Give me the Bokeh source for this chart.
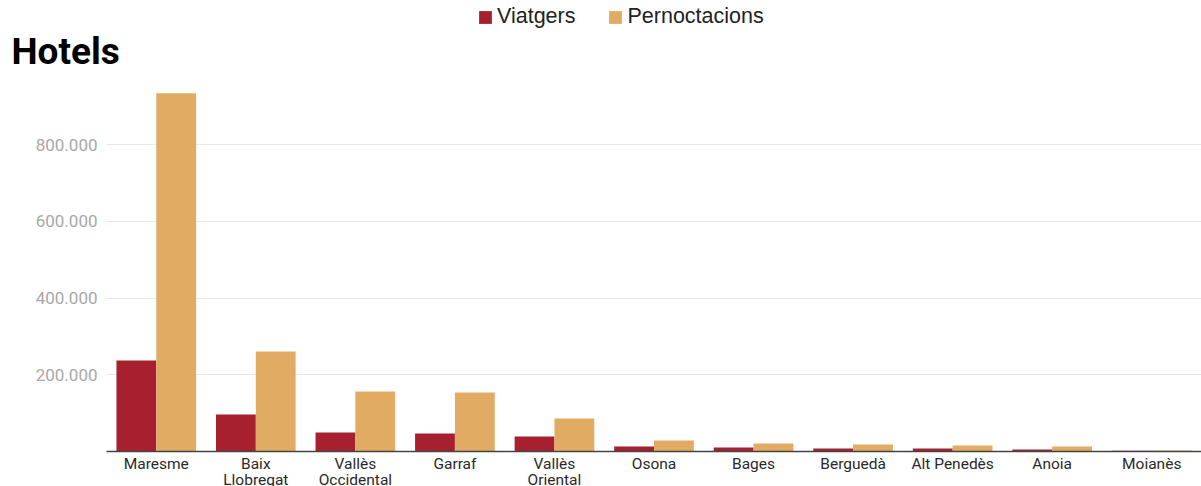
from bokeh.plotting import figure
from bokeh.models import (ColumnDataSource, FactorRange, Range1d, FixedTicker,
                          Legend, LegendItem, Title)
from bokeh.layouts import column
from bokeh.transform import dodge
from bokeh.embed import file_html
from bokeh.resources import INLINE

comarques = ["Maresme", "Baix\nLlobregat", "Vallès\nOccidental", "Garraf", "Vallès\nOriental",
             "Osona", "Bages", "Berguedà", "Alt Penedès", "Anoia", "Moianès"]
viatgers = [237600, 96600, 49600, 47000, 39200, 13000, 10400, 7800, 7800, 5200, 2200]
pernoctacions = [934400, 261100, 156700, 154000, 86200, 28700, 20900, 18300, 15700, 13000, 2600]
y_ticks = [200000, 400000, 600000, 800000]
y_labels = ["200.000", "400.000", "600.000", "800.000"]
series_names = ["Viatgers", "Pernoctacions"]
series_colors = ["#A6202F", "#E2AB63"]

src = ColumnDataSource(dict(cat=comarques, v=viatgers, p=pernoctacions))

# ---- header (legend + title) ----
head = figure(frame_width=1095, frame_height=29, output_backend="svg", toolbar_location=None,
              x_range=Range1d(0, 1), y_range=Range1d(0, 1),
              x_axis_location=None, y_axis_location=None,
              min_border_left=106, min_border_right=0, min_border_top=0, min_border_bottom=51)
head.outline_line_color = None
head.xgrid.visible = False
head.ygrid.visible = False
# legend-only renderers (their bars fall outside this header's range)
proxies = [head.vbar(x=col, top=col, width=0.4, source=src, fill_color=c, line_color=None)
           for col, c in zip(["v", "p"], series_colors)]
legend = Legend(items=[LegendItem(label=n, renderers=[r]) for n, r in zip(series_names, proxies)],
                orientation="horizontal", location=(371, 0),
                glyph_width=16, glyph_height=16, label_standoff=4, spacing=32,
                label_text_font="Liberation Sans", label_text_font_size="21.5px",
                label_text_color="#222222", padding=0, margin=0,
                border_line_color=None, background_fill_alpha=0)
head.add_layout(legend, "center")
head.add_layout(Title(text="Hotels", text_font="Roboto", text_font_size="37px",
                      text_font_style="bold", text_color="#000000", align="left",
                      vertical_align="top", offset=-95, standoff=0), "below")

# ---- main chart ----
p = figure(frame_width=1095, frame_height=371, output_backend="svg", toolbar_location=None,
           x_range=FactorRange(factors=comarques), y_range=Range1d(0, 967500),
           min_border_left=106, min_border_right=0, min_border_top=0, min_border_bottom=0)
p.outline_line_color = None

p.vbar(x=dodge("cat", -0.2, range=p.x_range), top="v", width=0.4, source=src,
       fill_color=series_colors[0], line_color=None)
p.vbar(x=dodge("cat", 0.2, range=p.x_range), top="p", width=0.4, source=src,
       fill_color=series_colors[1], line_color=None)

p.xgrid.grid_line_color = None
p.ygrid.grid_line_color = "#e8e8e8"
p.ygrid.grid_line_width = 1

p.yaxis.ticker = FixedTicker(ticks=y_ticks)
p.yaxis.major_label_overrides = {t: l for t, l in zip(y_ticks, y_labels)}
p.yaxis.axis_line_color = None
p.yaxis.major_tick_line_color = None
p.yaxis.minor_tick_line_color = None
p.yaxis.major_label_text_font = "Roboto"
p.yaxis.major_label_text_font_size = "17px"
p.yaxis.major_label_text_color = "#a8a8a8"
p.yaxis.major_label_standoff = 3

p.xaxis.axis_line_color = "#444444"
p.xaxis.axis_line_width = 1.5
p.xaxis.major_tick_line_color = None
p.xaxis.minor_tick_line_color = None
p.xaxis.major_label_text_font = "Roboto"
p.xaxis.major_label_text_font_size = "15.5px"
p.xaxis.major_label_text_line_height = 0.93
p.xaxis.major_label_text_color = "#2a2a2a"
p.xaxis.major_label_standoff = -3

layout = column(head, p, spacing=0)
open("out.html", "w").write(file_html(layout, INLINE))
